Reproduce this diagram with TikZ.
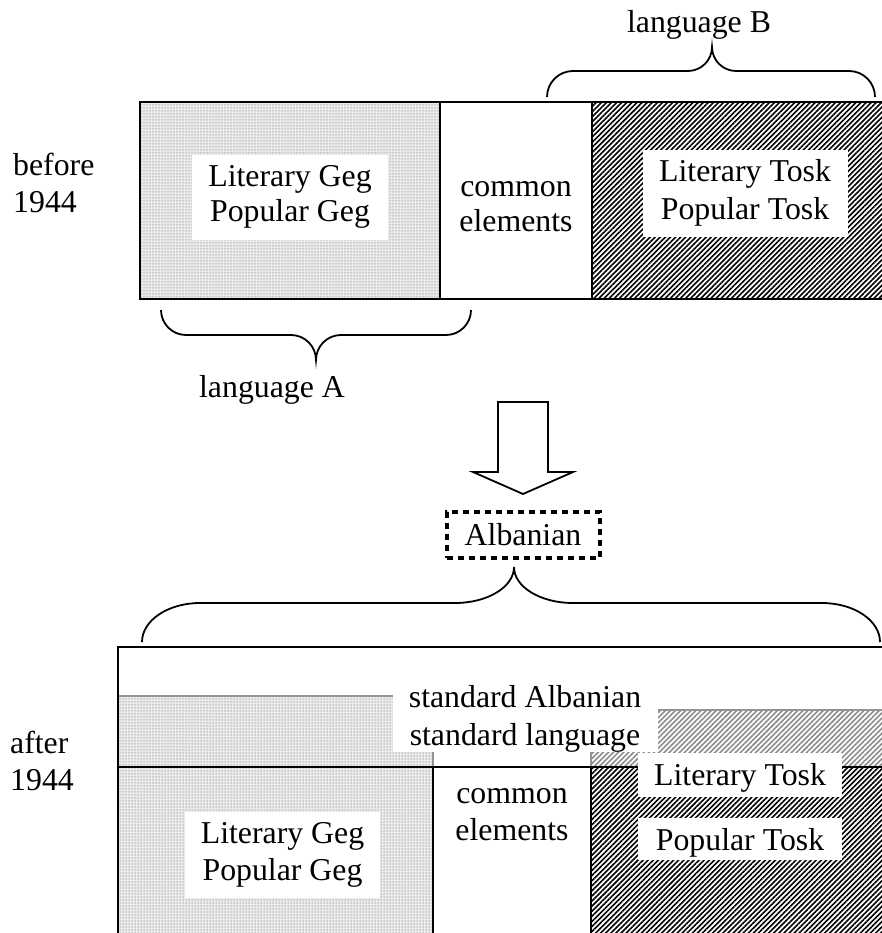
\documentclass[tikz,border=0pt]{standalone}
\usepackage{fontspec}
\setmainfont{Liberation Serif}
\usetikzlibrary{patterns.meta}
\begin{document}
\begin{tikzpicture}[x=1pt,y=-1pt,
  lbl/.style={font=\fontsize{31.8}{36}\selectfont, inner sep=0pt, anchor=base},
  lblw/.style={lbl, anchor=base west},
  whitebox/.style={fill=white, draw=none},
  frame/.style={draw=black, line width=1.8pt},
  graypen/.style={draw=black!42, line width=1.6pt},
  bracepen/.style={draw=black, line width=1.8pt},
  gegfill/.style={fill=black!8, postaction={pattern={Dots[radius=0.75pt,distance=3pt]}, pattern color=black!35}},
  toskdark/.style={fill=white, postaction={pattern={Lines[angle=45,distance=3.6pt,line width=1.6pt]}, pattern color=black}},
  tosklight/.style={fill=white, postaction={pattern={Lines[angle=45,distance=3.6pt,line width=1.6pt]}, pattern color=black!45}},
  albbox/.style={draw=black, line width=4pt, dash pattern=on 6pt off 5pt, fill=white,
    minimum width=153pt, minimum height=46pt, inner sep=0pt, font=\fontsize{31.8}{36}\selectfont},
  hollowarrow/.style={draw=black, line width=1.8pt, fill=white, line join=miter}
]
\useasboundingbox (0,0) rectangle (882,933);
\clip (0,0) rectangle (882,933);

% ---------------- before 1944 ----------------
\node[lblw] (before1) at (13,176) {before};
\node[lblw] (before2) at (13,212) {1944};

\path[gegfill] (140,102) rectangle (440,299);
\path[toskdark] (592,102) rectangle (890,299);
\draw[frame] (890,102) -- (140,102) -- (140,299) -- (890,299);
\draw[frame] (440,102) -- (440,299);
\draw[frame] (592,102) -- (592,299);

\node[whitebox, minimum width=196pt, minimum height=85pt, inner sep=0pt] (gegtop) at (290,197.5) {};
\node[lbl] (gegtop1) at (290,187) {Literary Geg};
\node[lbl] (gegtop2) at (290,222) {Popular Geg};

\node[whitebox, minimum width=205pt, minimum height=87pt, inner sep=0pt] (tosktop) at (745.5,193.5) {};
\node[lbl] (tosktop1) at (745,182) {Literary Tosk};
\node[lbl] (tosktop2) at (745,219) {Popular Tosk};

\node[lbl] (comtop1) at (516,197) {common};
\node[lbl] (comtop2) at (516,232) {elements};

% brace for language B
\coordinate (bBl) at (547,97);
\coordinate (bBt) at (712,47);
\coordinate (bBr) at (875,97);
\draw[bracepen] (bBl) .. controls (547,82.6) and (558.6,71) .. (573,71) -- (688,71)
  .. controls (701.2,71) and (712,60.2) .. (bBt)
  .. controls (712,60.2) and (722.8,71) .. (736,71) -- (849,71)
  .. controls (863.4,71) and (875,82.6) .. (bBr);
\node[lbl] (langB) at (699,33) {language B};

% brace for language A
\coordinate (bAl) at (161,310);
\coordinate (bAt) at (316,360);
\coordinate (bAr) at (471,310);
\draw[bracepen] (bAl) .. controls (161,323.8) and (172.2,335) .. (186,335) -- (291,335)
  .. controls (304.8,335) and (316,346.2) .. (bAt)
  .. controls (316,346.2) and (327.2,335) .. (341,335) -- (446,335)
  .. controls (459.8,335) and (471,323.8) .. (bAr);
\node[lbl] (langA) at (272,397) {language A};

% ---------------- transition ----------------
\draw[hollowarrow] (498,402) -- (548,402) -- (548,472) -- (573,472) -- (523,494)
  -- (473,472) -- (498,472) -- cycle;

\node[albbox] (alb) at (523,535) {Albanian};

% brace over the whole lower block
\coordinate (bCl) at (142,642);
\coordinate (bCt) at (514,567);
\coordinate (bCr) at (880,642);
\draw[bracepen] (bCl) .. controls (142,620.5) and (168,603) .. (200,603) -- (455,603)
  .. controls (487.6,603) and (514,586.9) .. (bCt)
  .. controls (514,586.9) and (540.4,603) .. (573,603) -- (822,603)
  .. controls (854,603) and (880,620.5) .. (bCr);

% ---------------- after 1944 ----------------
\node[lblw] (after1) at (10,753) {after};
\node[lblw] (after2) at (10,790) {1944};

\path[gegfill] (118,696) rectangle (433,767);
\path[gegfill] (118,767) rectangle (433,950);
\path[tosklight] (591,710) rectangle (890,767);
\path[toskdark] (591,767) rectangle (890,950);

\draw[graypen] (118,696) -- (433,696) -- (433,767);
\draw[graypen] (591,767) -- (591,710) -- (890,710);

\draw[frame] (890,647) -- (118,647) -- (118,950);
\draw[frame] (118,767) -- (890,767);
\draw[frame] (433,767) -- (433,950);
\draw[frame] (591,767) -- (591,950);

\node[whitebox, minimum width=265pt, minimum height=72pt, inner sep=0pt] (stdbox) at (525.5,716) {};
\node[lbl] (std1) at (525,707) {standard Albanian};
\node[lbl] (std2) at (525,745) {standard language};

\node[whitebox, minimum width=195pt, minimum height=86pt, inner sep=0pt] (gegbot) at (282.5,855) {};
\node[lbl] (gegbot1) at (282.5,843) {Literary Geg};
\node[lbl] (gegbot2) at (282.5,880) {Popular Geg};

\node[lbl] (combot1) at (512,803) {common};
\node[lbl] (combot2) at (512,840) {elements};

\node[whitebox, minimum width=204pt, minimum height=44pt, inner sep=0pt] (littosk) at (740,775) {};
\node[lbl] (littosk1) at (740,785) {Literary Tosk};
\node[whitebox, minimum width=204pt, minimum height=42pt, inner sep=0pt] (poptosk) at (740,839) {};
\node[lbl] (poptosk1) at (740,850) {Popular Tosk};
\end{tikzpicture}
\end{document}
